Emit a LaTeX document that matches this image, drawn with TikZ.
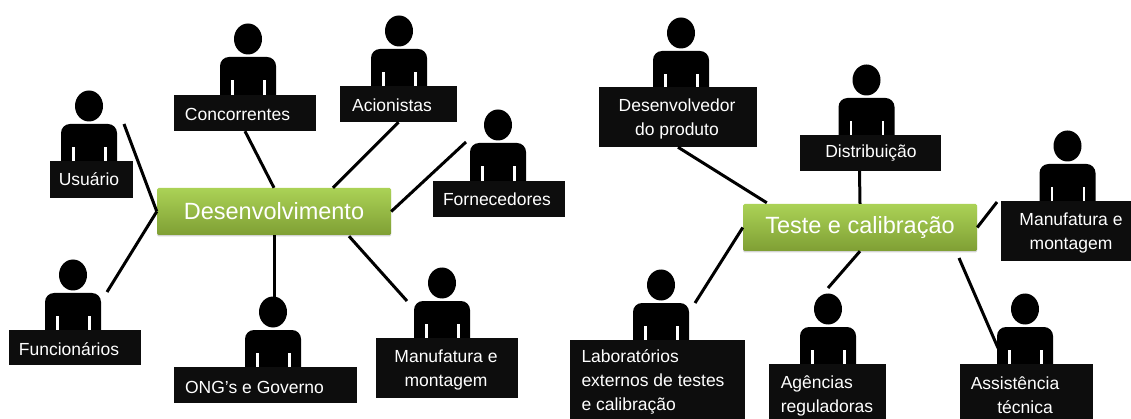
\documentclass[tikz,border=0pt]{standalone}
\usepackage{fontspec}
\setmainfont{Liberation Sans}
\usetikzlibrary{calc,shapes.geometric,shadows}
\definecolor{boxblack}{HTML}{0D0D0D}
\definecolor{hubtop}{HTML}{ABD256}
\definecolor{hubbottom}{HTML}{7F9F34}
\tikzset{
  head/.style={ellipse,fill=black,inner sep=0pt,minimum width=28pt,minimum height=31pt},
  tag/.style={fill=boxblack,inner sep=0pt},
  tagtext/.style={text=white,font=\fontsize{17.5}{24}\selectfont,inner sep=0pt,align=center},
  hub/.style={rounded corners=1.5pt,inner sep=0pt,top color=hubtop,bottom color=hubbottom,
    text=white,font=\fontsize{23.5}{27}\selectfont,minimum height=47pt,minimum width=234pt,
    drop shadow={opacity=0.35,shadow xshift=0pt,shadow yshift=-1.5pt}},
  link/.style={line width=3pt,black}
}
% #1 name, (#2,#3) centre of the head
\newcommand{\person}[3]{
  \node[head] (#1) at (#2,#3) {};
  \fill[black,rounded corners=9pt] ($(#1.center)+(-28,18)$) rectangle ($(#1.center)+(28,70)$);
  \fill[white] ($(#1.center)+(-17,41)$) rectangle ($(#1.center)+(-14.5,70)$);
  \fill[white] ($(#1.center)+(15,41)$) rectangle ($(#1.center)+(17.5,70)$);
}
\begin{document}
\begin{tikzpicture}[x=1pt,y=-1pt]
\useasboundingbox (0,0) rectangle (1131,419);
\person{usuario}{89}{106}
\person{concorrentes}{248}{39}
\person{acionistas}{399}{31}
\person{fornecedores}{498}{125}
\person{funcionarios}{73}{275}
\person{ong}{273}{312}
\person{manufatura}{442}{283}
\person{desenvolvedor}{681}{33}
\person{distribuicao}{866.5}{80}
\person{manufaturab}{1067.5}{146}
\person{laboratorios}{661}{285}
\person{agencias}{828}{309}
\person{assistencia}{1025}{309}

\node[tag,minimum width=83pt,minimum height=37pt] (T1) at (91.5,179.5) {};
\node[tag,minimum width=142pt,minimum height=36pt] (T2) at (245,113) {};
\node[tag,minimum width=117pt,minimum height=36pt] (T3) at (398.5,104) {};
\node[tag,minimum width=132pt,minimum height=36pt] (T4) at (499,199) {};
\node[tag,minimum width=132pt,minimum height=35pt] (T5) at (75,347) {};
\node[tag,minimum width=183pt,minimum height=36pt] (T6) at (265.5,385) {};
\node[tag,minimum width=142pt,minimum height=60pt] (T7) at (447,368) {};
\node[tag,minimum width=158pt,minimum height=60pt] (T8) at (678,117) {};
\node[tag,minimum width=141pt,minimum height=36pt] (T9) at (870.5,153) {};
\node[tag,minimum width=130pt,minimum height=60pt] (T10) at (1066,231) {};
\node[tag,minimum width=175pt,minimum height=79pt] (T11) at (657.5,379.5) {};
\node[tag,minimum width=117pt,minimum height=55pt] (T12) at (827.5,391.5) {};
\node[tag,minimum width=133pt,minimum height=55pt] (T13) at (1026.5,391.5) {};

\node[tagtext] (L1) at (89,179) {Usuário};
\node[tagtext] (L2) at (237.5,114) {Concorrentes};
\node[tagtext] (L3) at (392,105) {Acionistas};
\node[tagtext] (L4) at (497,199) {Fornecedores};
\node[tagtext] (L5) at (69,349) {Funcionários};
\node[tagtext] (L6) at (254.5,387) {ONG's e Governo};
\node[tagtext] (L7) at (446,370) {Manufatura e\\montagem};
\node[tagtext] (L8) at (677,118.5) {Desenvolvedor\\do produto};
\node[tagtext] (L9) at (871,153) {Distribuição};
\node[tagtext] (L10) at (1071,232.5) {Manufatura e\\montagem};
\node[tagtext,align=left] (L11) at (653,382) {Laboratórios\\externos de testes\\e calibração};
\node[tagtext,align=left] (L12) at (827,395.5) {Agências\\reguladoras};
\node[tagtext] (L13) at (1015,395.5) {Assistência\\\hspace*{20pt}técnica};

\node[hub] (dev) at (274,211.5) {Desenvolvimento};
\node[hub] (test) at (860,227.5) {Teste e calibração};

\coordinate (a1) at (124,124);
\coordinate (a2) at (107,292);
\coordinate (a3) at (466,142);
\coordinate (a4) at (274,298);
\coordinate (a5) at (407,301);
\coordinate (a6) at (695,303);
\coordinate (a7) at (997,202);
\coordinate (a8) at (828,288);
\coordinate (a9) at (998,348);
\coordinate (a10) at (959,258);

\draw[link] (a1) -- (dev.west);
\draw[link] (a2) -- (dev.west);
\draw[link] (T2.south) -- (dev.north);
\draw[link] (T3.south) -- ($(dev.north)+(59,0)$);
\draw[link] (a3) -- (dev.east);
\draw[link] (dev.south) -- (a4);
\draw[link] ($(dev.south)+(75,1)$) -- (a5);
\draw[link] (T8.south) -- ($(test.north west)+(24,-1)$);
\draw[link] ($(T9.south)+(-11,0)$) -- (test.north);
\draw[link] (a7) -- (test.east);
\draw[link] (a6) -- (test.west);
\draw[link] (test.south) -- (a8);
\draw[link] (a10) -- (a9);
\end{tikzpicture}
\end{document}
